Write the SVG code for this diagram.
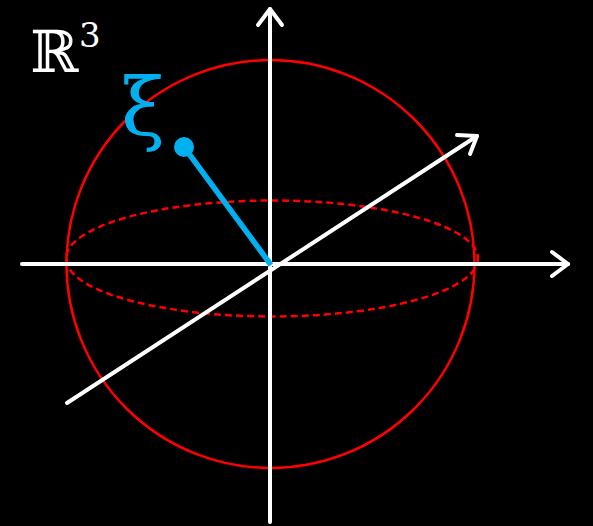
<svg xmlns="http://www.w3.org/2000/svg" width="593" height="526" viewBox="0 0 593 526">
<style>
.ax{stroke:#fff;stroke-width:4;fill:none;stroke-linecap:round;stroke-linejoin:round}
.red{stroke:#f00;stroke-width:2.5;fill:none}
</style>
<rect width="593" height="526" fill="#000"/>
<g id="sphere"><circle class="red" cx="270.5" cy="264" r="204"/></g>
<g id="equator"><ellipse class="red" cx="272" cy="258.5" rx="206" ry="58" stroke-dasharray="7,4"/></g>
<g id="axes">
<line class="ax" x1="22" y1="264" x2="568" y2="264"/>
<polyline class="ax" points="552,252 568,264 552,276"/>
<line class="ax" x1="270" y1="522" x2="270" y2="9"/>
<polyline class="ax" points="258,25 270,9 282,25"/>
<line class="ax" x1="67" y1="403" x2="477" y2="136"/>
<polyline class="ax" points="457,135 477,136 470,154"/>
</g>
<g id="vector">
<line x1="184" y1="147" x2="271" y2="265" stroke="#00b0f0" stroke-width="5.5"/>
<circle cx="184" cy="147" r="10" fill="#00b0f0"/>
</g>
<g id="labels">
<text x="30" y="72" font-family="DejaVu Serif, serif" font-size="58" fill="#fff">ℝ</text>
<text x="79" y="47" font-family="DejaVu Serif, serif" font-size="34" fill="#fff">3</text>
<text x="121" y="135" font-family="DejaVu Serif, serif" font-size="80" fill="#00b0f0">ξ</text>
</g>
</svg>
